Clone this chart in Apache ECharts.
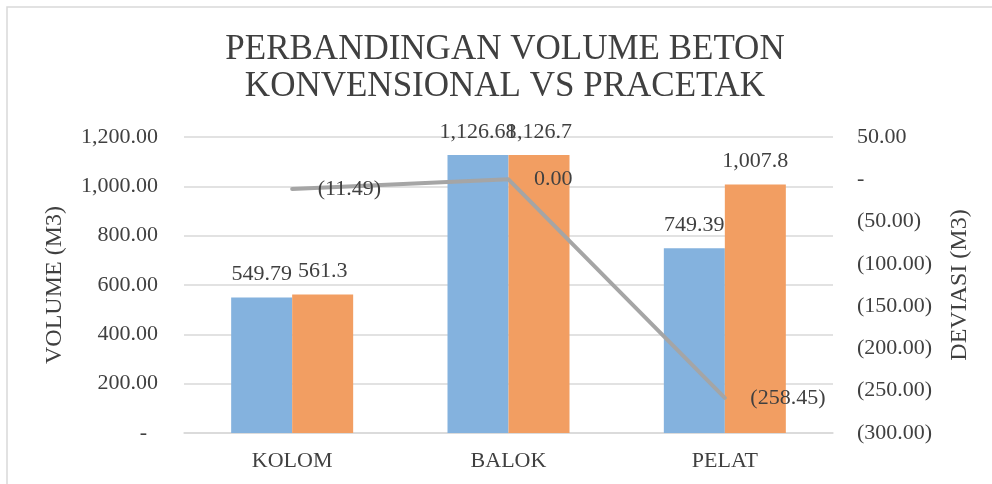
<!DOCTYPE html>
<html>
<head>
<meta charset="utf-8">
<script src="https://cdn.jsdelivr.net/npm/echarts@6/dist/echarts.min.js"></script>
<style>
  html, body { margin: 0; padding: 0; background: #ffffff; }
  #chart { width: 992px; height: 484px; }
</style>
</head>
<body>
<div id="chart"></div>
<script>
// Concrete volume per structural element (m3) and the deviation between methods
const categories = ['KOLOM', 'BALOK', 'PELAT'];
const konvensional = [549.79, 1126.68, 749.39];
const pracetak = [561.3, 1126.7, 1007.8];
const deviasi = [-11.49, 0.00, -258.45];

const FONT = 'Liberation Serif, Times New Roman, serif';
const TEXT = '#404040';
const GRID = '#d9d9d9';

function fmt(v, min, max) {
  return v.toLocaleString('en-US', { minimumFractionDigits: min, maximumFractionDigits: max });
}
function fmtAcc(v) {
  if (v === 0) return '-';
  return v < 0 ? '(' + fmt(-v, 2, 2) + ')' : fmt(v, 2, 2);
}

const chart = echarts.init(document.getElementById('chart'));
chart.setOption({
  backgroundColor: '#ffffff',
  animation: false,
  graphic: [
    {
      type: 'rect',
      shape: { x: 7, y: 7, width: 1000, height: 500 },
      style: { fill: 'none', stroke: GRID, lineWidth: 1.5 },
      silent: true
    },
    {
      type: 'text',
      x: 505, y: 31,
      style: {
        text: 'PERBANDINGAN VOLUME BETON\nKONVENSIONAL VS PRACETAK',
        font: '35px ' + FONT,
        fill: TEXT,
        align: 'center',
        verticalAlign: 'top',
        lineHeight: 37
      }
    }
  ],
  grid: { left: 184, right: 159, top: 137, bottom: 51 },
  xAxis: {
    type: 'category',
    data: categories,
    axisLine: { lineStyle: { color: GRID, width: 1.5 } },
    axisTick: { show: false },
    axisLabel: { color: TEXT, fontFamily: FONT, fontSize: 22, margin: 17 }
  },
  yAxis: [
    {
      type: 'value',
      min: 0, max: 1200, interval: 200,
      name: 'VOLUME (M3)',
      nameLocation: 'middle',
      nameGap: 117,
      nameTextStyle: { color: TEXT, fontFamily: FONT, fontSize: 24 },
      axisLine: { show: false },
      axisTick: { show: false },
      splitLine: { lineStyle: { color: GRID, width: 1.5 } },
      axisLabel: {
        color: TEXT, fontFamily: FONT, fontSize: 22, margin: 26,
        formatter: v => v === 0 ? '-  ' : fmt(v, 2, 2)
      }
    },
    {
      type: 'value',
      min: -300, max: 50, interval: 50,
      name: 'DEVIASI (M3)',
      nameLocation: 'middle',
      nameGap: 115,
      nameTextStyle: { color: TEXT, fontFamily: FONT, fontSize: 24 },
      axisLine: { show: false },
      axisTick: { show: false },
      splitLine: { show: false },
      axisLabel: {
        color: TEXT, fontFamily: FONT, fontSize: 22, margin: 24,
        formatter: fmtAcc
      }
    }
  ],
  series: [
    {
      name: 'KONVENSIONAL',
      type: 'bar',
      data: konvensional,
      barWidth: 61,
      barGap: '0%',
      itemStyle: { color: '#84b2de' },
      label: {
        show: true, position: 'top', distance: 12,
        color: TEXT, fontFamily: FONT, fontSize: 22,
        formatter: p => fmt(p.value, 2, 2)
      }
    },
    {
      name: 'PRACETAK',
      type: 'bar',
      data: pracetak,
      barWidth: 61,
      barGap: '0%',
      itemStyle: { color: '#f29e62' },
      label: {
        show: true, position: 'top', distance: 12,
        color: TEXT, fontFamily: FONT, fontSize: 22,
        formatter: p => fmt(p.value, 0, 1)
      }
    },
    {
      name: 'DEVIASI',
      type: 'line',
      yAxisIndex: 1,
      data: deviasi,
      symbol: 'circle',
      symbolSize: 1,
      itemStyle: { color: '#a5a5a5' },
      lineStyle: { color: '#a5a5a5', width: 4, cap: 'round', join: 'round' },
      label: {
        show: true, position: 'right', distance: 25,
        color: TEXT, fontFamily: FONT, fontSize: 22,
        formatter: p => p.value === 0 ? '0.00' : fmtAcc(p.value)
      }
    }
  ]
});
</script>
</body>
</html>
